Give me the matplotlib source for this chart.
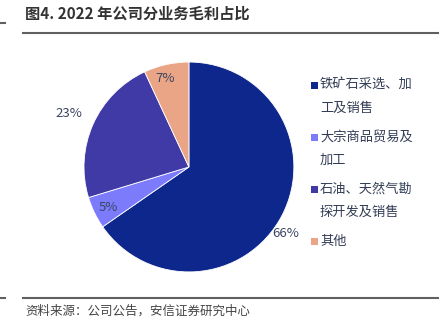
import numpy as np
import matplotlib
matplotlib.use("Agg")
import matplotlib.pyplot as plt
from matplotlib.lines import Line2D
from matplotlib.patches import Rectangle

plt.rcParams['font.family'] = ['Noto Sans CJK SC', 'DejaVu Sans']

categories = ["铁矿石采选、加\n工及销售", "大宗商品贸易及\n加工", "石油、天然气勘\n探开发及销售", "其他"]
values = [66, 5, 23, 7]
pct_labels = ["66%", "5%", "23%", "7%"]
colors = ["#0E278C", "#7B7BFC", "#3F3AA6", "#EAA586"]
label_dist = [1.12, 0.86, 1.25, 0.87]
label_shift = [-7, 1, 0, 3]

W, H = 444, 330
fig = plt.figure(figsize=(4.44, 3.30), dpi=100)
ax = fig.add_axes([0.189, 0.176, 0.473, 0.636])
wedges, _ = ax.pie(values, colors=colors, startangle=90, counterclock=False,
                   wedgeprops=dict(linewidth=0.6, edgecolor='white'))
ax.set_xlim(-1, 1); ax.set_ylim(-1, 1); ax.set_aspect('equal')

for w, lab, d, s in zip(wedges, pct_labels, label_dist, label_shift):
    ang = np.deg2rad((w.theta1 + w.theta2) / 2 + s)
    ax.text(d * np.cos(ang), d * np.sin(ang), lab, ha='center', va='center',
            fontsize=9.5, color='#3a4560', clip_on=False)

# manual legend: square aligned with first line of each entry
y = 85
for c, lab in zip(colors, categories):
    fig.add_artist(Rectangle((311/W, 1 - (y + 4)/H), 7/W, 7/H, facecolor=c,
                             edgecolor='none', transform=fig.transFigure))
    lines = lab.split("\n")
    for i, ln in enumerate(lines):
        fig.text(320/W, 1 - (y + 23*i)/H, ln, fontsize=9.5, color='#333d55',
                 ha='left', va='center')
    y += 23*len(lines) + 6

fig.text(25/W, 1 - 14/H, "图4. 2022 年公司分业务毛利占比", fontsize=11, fontweight='bold',
         color='#333333', ha='left', va='center')
fig.add_artist(Line2D([23/W, 438/W], [1 - 33/H, 1 - 33/H], color='#606060', lw=1.5))
fig.add_artist(Line2D([0, 5/W], [1 - 23/H, 1 - 23/H], color='#606060', lw=1.5))
fig.add_artist(Line2D([23/W, 438/W], [1 - 298/H, 1 - 298/H], color='#606060', lw=1.5))
fig.add_artist(Line2D([0, 5/W], [1 - 298/H, 1 - 298/H], color='#606060', lw=1.5))
fig.text(25/W, 1 - 311/H, "资料来源：公司公告，安信证券研究中心", fontsize=9,
         color='#444444', ha='left', va='center', style='italic')

fig.savefig("out.png", dpi=100)
